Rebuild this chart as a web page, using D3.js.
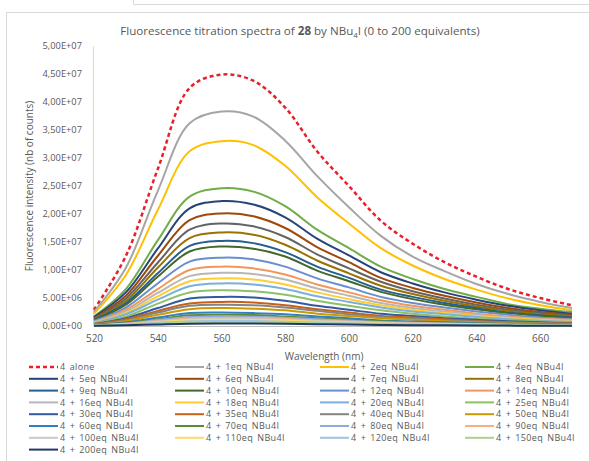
<!DOCTYPE html>
<html>
<head>
<meta charset="utf-8">
<script src="https://cdn.jsdelivr.net/npm/d3@7/dist/d3.min.js"></script>
<style>
  html, body { margin: 0; padding: 0; background: #fff; }
  svg { display: block; font-family: "Open Sans", "Noto Sans", sans-serif; }
</style>
</head>
<body>
<svg id="chart" width="589" height="461"></svg>
<script>
// Wavelengths (nm)
const wavelengths = [520, 530, 540, 550, 560, 570, 580, 590, 600, 610, 620, 630, 640, 650, 660, 670];
// Fluorescence intensity, in millions of counts (x 1e6)
const alone = [2.9, 12.5, 28.0, 42.5, 44.9, 43.8, 39.0, 31.2, 25.0, 18.8, 14.7, 11.4, 8.8, 6.6, 5.0, 3.7];
const eq1   = [2.5, 10.4, 24.1, 36.2, 38.3, 37.4, 33.1, 26.8, 21.2, 16.1, 12.4, 9.8, 7.5, 5.7, 4.3, 3.2];
const eq2   = [2.2, 9.1, 20.7, 31.2, 33.0, 32.3, 28.6, 23.0, 18.3, 13.9, 10.8, 8.4, 6.5, 4.9, 3.7, 2.8];
const eq4   = [1.7, 6.6, 15.3, 23.1, 24.6, 24.0, 21.4, 17.2, 13.9, 10.6, 8.4, 6.6, 5.2, 3.9, 3.1, 2.5];
const eq5   = [1.6, 6.0, 13.8, 21.0, 22.3, 21.7, 19.4, 15.6, 12.6, 9.6, 7.6, 6.0, 4.7, 3.6, 2.8, 2.2];
const eq6   = [1.4, 5.4, 12.5, 18.9, 20.1, 19.6, 17.5, 14.1, 11.4, 8.6, 6.8, 5.4, 4.2, 3.2, 2.5, 2.0];
const eq7   = [1.3, 4.9, 11.3, 17.2, 18.3, 17.8, 15.9, 12.8, 10.3, 7.9, 6.2, 4.9, 3.8, 2.9, 2.3, 1.8];
const eq8   = [1.2, 4.5, 10.4, 15.7, 16.7, 16.3, 14.5, 11.7, 9.4, 7.2, 5.7, 4.5, 3.5, 2.7, 2.1, 1.7];
const eq9   = [1.1, 4.1, 9.4, 14.3, 15.2, 14.8, 13.2, 10.6, 8.6, 6.5, 5.2, 4.1, 3.2, 2.4, 1.9, 1.5];
const eq10  = [1.0, 3.8, 8.8, 13.3, 14.2, 13.8, 12.4, 9.9, 8.0, 6.1, 4.8, 3.8, 3.0, 2.3, 1.8, 1.4];
const eq12  = [0.9, 3.3, 7.6, 11.5, 12.2, 11.9, 10.6, 8.5, 6.9, 5.2, 4.1, 3.3, 2.6, 2.0, 1.5, 1.2];
const eq14  = [0.7, 2.9, 6.6, 10.0, 10.6, 10.3, 9.2, 7.4, 6.0, 4.6, 3.6, 2.9, 2.2, 1.7, 1.3, 1.1];
const eq16  = [0.7, 2.6, 5.9, 8.9, 9.5, 9.3, 8.3, 6.7, 5.4, 4.1, 3.2, 2.6, 2.0, 1.5, 1.2, 1.0];
const eq18  = [0.6, 2.3, 5.3, 8.0, 8.5, 8.3, 7.4, 6.0, 4.8, 3.7, 2.9, 2.3, 1.8, 1.4, 1.1, 0.85];
const eq20  = [0.5, 2.1, 4.7, 7.1, 7.6, 7.4, 6.6, 5.3, 4.3, 3.3, 2.6, 2.1, 1.6, 1.2, 0.95, 0.76];
const eq25  = [0.45, 1.7, 4.0, 6.0, 6.4, 6.2, 5.6, 4.5, 3.6, 2.8, 2.2, 1.7, 1.3, 1.0, 0.8, 0.64];
const eq30  = [0.36, 1.4, 3.2, 4.9, 5.2, 5.1, 4.5, 3.6, 2.9, 2.2, 1.8, 1.4, 1.1, 0.83, 0.65, 0.52];
const eq35  = [0.3, 1.2, 2.7, 4.0, 4.3, 4.2, 3.7, 3.0, 2.4, 1.8, 1.5, 1.2, 0.9, 0.69, 0.54, 0.43];
const eq40  = [0.27, 1.0, 2.4, 3.6, 3.8, 3.7, 3.3, 2.7, 2.1, 1.6, 1.3, 1.0, 0.8, 0.61, 0.48, 0.38];
const eq50  = [0.22, 0.86, 2.0, 3.0, 3.2, 3.1, 2.8, 2.2, 1.8, 1.4, 1.1, 0.86, 0.67, 0.51, 0.4, 0.32];
const eq60  = [0.17, 0.65, 1.5, 2.3, 2.4, 2.3, 2.1, 1.7, 1.4, 1.0, 0.82, 0.65, 0.5, 0.38, 0.3, 0.24];
const eq70  = [0.14, 0.54, 1.2, 1.9, 2.0, 1.95, 1.7, 1.4, 1.1, 0.86, 0.68, 0.54, 0.42, 0.32, 0.25, 0.2];
const eq80  = [0.12, 0.46, 1.05, 1.6, 1.7, 1.66, 1.48, 1.19, 0.96, 0.73, 0.58, 0.46, 0.36, 0.27, 0.21, 0.17];
const eq90  = [0.1, 0.39, 0.9, 1.36, 1.45, 1.41, 1.26, 1.0, 0.82, 0.62, 0.49, 0.39, 0.3, 0.23, 0.18, 0.15];
const eq100 = [0.09, 0.34, 0.78, 1.18, 1.25, 1.22, 1.09, 0.88, 0.71, 0.54, 0.43, 0.34, 0.26, 0.2, 0.16, 0.13];
const eq110 = [0.08, 0.3, 0.68, 1.03, 1.1, 1.07, 0.96, 0.77, 0.62, 0.47, 0.37, 0.3, 0.23, 0.18, 0.14, 0.11];
const eq120 = [0.06, 0.24, 0.56, 0.85, 0.9, 0.88, 0.78, 0.63, 0.51, 0.39, 0.31, 0.24, 0.19, 0.14, 0.11, 0.09];
const eq150 = [0.05, 0.19, 0.43, 0.66, 0.7, 0.68, 0.61, 0.49, 0.4, 0.3, 0.24, 0.19, 0.15, 0.11, 0.09, 0.07];
const eq200 = [0.03, 0.12, 0.28, 0.42, 0.45, 0.44, 0.39, 0.32, 0.25, 0.19, 0.15, 0.12, 0.09, 0.07, 0.06, 0.05];

const seriesNames = ["4 alone", "4 + 1eq NBu4I", "4 + 2eq NBu4I", "4 + 4eq NBu4I",
  "4 + 5eq NBu4I", "4 + 6eq NBu4I", "4 + 7eq NBu4I", "4 + 8eq NBu4I",
  "4 + 9eq NBu4I", "4 + 10eq NBu4I", "4 + 12eq NBu4I", "4 + 14eq NBu4I",
  "4 + 16eq NBu4I", "4 + 18eq NBu4I", "4 + 20eq NBu4I", "4 + 25eq NBu4I",
  "4 + 30eq NBu4I", "4 + 35eq NBu4I", "4 + 40eq NBu4I", "4 + 50eq NBu4I",
  "4 + 60eq NBu4I", "4 + 70eq NBu4I", "4 + 80eq NBu4I", "4 + 90eq NBu4I",
  "4 + 100eq NBu4I", "4 + 110eq NBu4I", "4 + 120eq NBu4I", "4 + 150eq NBu4I",
  "4 + 200eq NBu4I"];
const seriesValues = [alone, eq1, eq2, eq4, eq5, eq6, eq7, eq8, eq9, eq10, eq12, eq14,
  eq16, eq18, eq20, eq25, eq30, eq35, eq40, eq50, eq60, eq70, eq80, eq90,
  eq100, eq110, eq120, eq150, eq200];
const seriesColors = ["#e8202a", "#a5a5a5", "#ffc000", "#70ad47",
  "#264478", "#9e480e", "#636363", "#997300",
  "#255e91", "#43682b", "#698ed0", "#f1975a",
  "#b7b7b7", "#ffcd33", "#7cafdd", "#8cc168",
  "#335aa1", "#c9601a", "#848484", "#cc9a00",
  "#327fc3", "#5a8b39", "#8faadc", "#f4b183",
  "#c9c9c9", "#ffd966", "#9dc3e6", "#a9d18e",
  "#203864"];
const xTicks = [520, 540, 560, 580, 600, 620, 640, 660];
const yTicks = [0, 5, 10, 15, 20, 25, 30, 35, 40, 45, 50];
const yTickLabels = ["0,00E+00", "5,00E+06", "1,00E+07", "1,50E+07", "2,00E+07", "2,50E+07",
  "3,00E+07", "3,50E+07", "4,00E+07", "4,50E+07", "5,00E+07"];

const svg = d3.select("#chart");
const textColor = "#595959";

// frames
svg.append("path").attr("d", "M133.5,0 V4.5 H589").attr("fill", "none").attr("stroke", "#d9d9d9");
svg.append("rect").attr("x", 6.5).attr("y", 12.5).attr("width", 620).attr("height", 500)
  .attr("fill", "#fff").attr("stroke", "#d9d9d9");

const x = d3.scaleLinear().domain([520, 670]).range([94, 572]);
const y = d3.scaleLinear().domain([0, 50]).range([326, 46]);

// title
const title = svg.append("text").attr("x", 300).attr("y", 35).attr("text-anchor", "middle")
  .attr("fill", textColor).style("font-size", "11.6px");
title.append("tspan").text("Fluorescence  titration spectra of ");
title.append("tspan").attr("font-weight", "bold").text("28");
title.append("tspan").text(" by NBu");
title.append("tspan").attr("dy", 3).style("font-size", "8px").text("4");
title.append("tspan").attr("dy", -3).text("I (0 to 200 equivalents)");

// y axis
const yAxis = d3.axisLeft(y).tickValues(yTicks).tickSize(0).tickPadding(11)
  .tickFormat((d, i) => yTickLabels[i]);
const gy = svg.append("g").attr("transform", "translate(93,0)").call(yAxis);
gy.select(".domain").attr("stroke", "#d9d9d9");
gy.selectAll("text").attr("fill", textColor).style("font-size", "9.3px")
  .style("font-family", "'Open Sans', sans-serif");

// x axis
const xAxis = d3.axisBottom(x).tickValues(xTicks).tickSize(0).tickPadding(9)
  .tickFormat(d3.format("d"));
const gx = svg.append("g").attr("transform", "translate(0,326)").call(xAxis);
gx.select(".domain").attr("stroke", "#bfbfbf");
gx.selectAll("text").attr("fill", textColor).style("font-size", "10px")
  .style("font-family", "'Open Sans', sans-serif");

// axis titles
svg.append("text").attr("transform", "translate(33,186) rotate(-90)").attr("text-anchor", "middle")
  .attr("fill", textColor).style("font-size", "10px").text("Fluorescence intensity (nb of counts)");
svg.append("text").attr("x", 324).attr("y", 360).attr("text-anchor", "middle")
  .attr("fill", textColor).style("font-size", "10px").text("Wavelength (nm)");

// lines
const line = d3.line().x((d, i) => x(wavelengths[i])).y(d => y(d)).curve(d3.curveCatmullRom.alpha(0.5));
const lines = svg.append("g");
seriesValues.forEach((vals, k) => {
  lines.append("path").attr("d", line(vals)).attr("fill", "none")
    .attr("stroke", seriesColors[k]).attr("stroke-width", k === 0 ? 2.5 : 2)
    .attr("stroke-dasharray", k === 0 ? "4,3" : null)
    .attr("stroke-linejoin", "round");
});

// legend
const colX = [29, 175, 320, 465];
const legend = svg.append("g");
seriesNames.forEach((name, k) => {
  const c = k % 4, r = Math.floor(k / 4);
  const ly = 367 + r * 11.8;
  legend.append("line").attr("x1", colX[c]).attr("x2", colX[c] + 29).attr("y1", ly).attr("y2", ly)
    .attr("stroke", seriesColors[k]).attr("stroke-width", k === 0 ? 2.5 : 2)
    .attr("stroke-dasharray", k === 0 ? "4,3" : null);
  legend.append("text").attr("x", colX[c] + 31).attr("y", ly + 3.2)
    .attr("fill", textColor).style("font-size", "9px")
    .style("letter-spacing", "0.35px").style("word-spacing", "1.5px").text(name);
});
</script>
</body>
</html>
